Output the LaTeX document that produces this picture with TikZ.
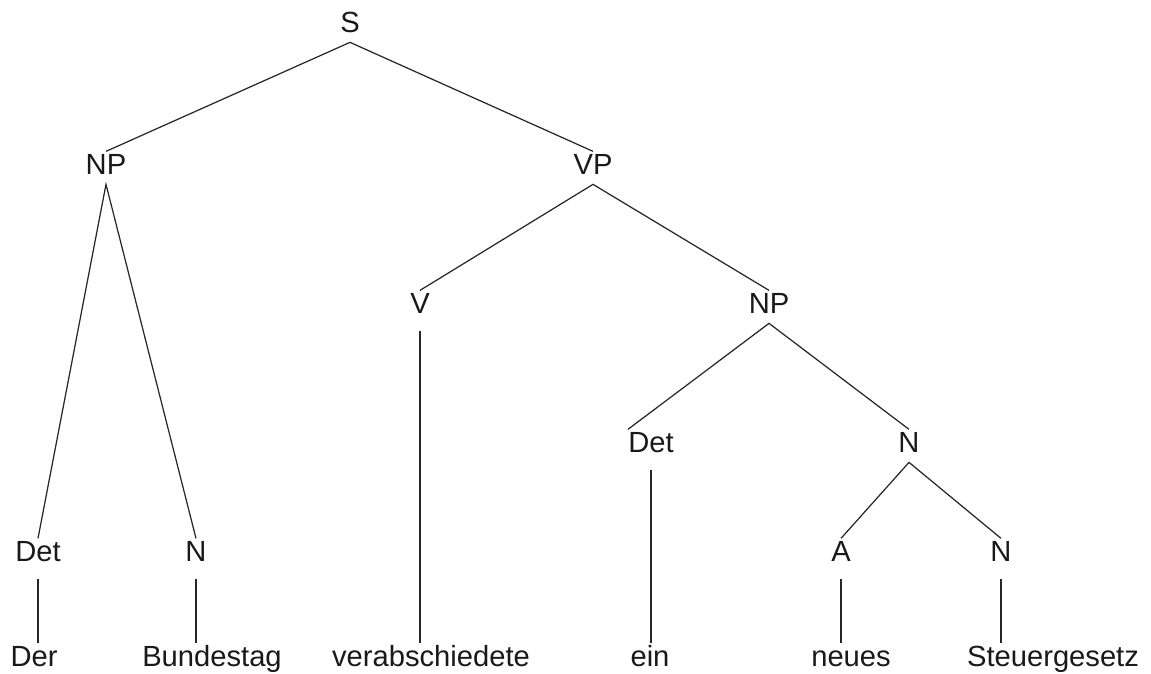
\documentclass[tikz,border=0pt]{standalone}
\usepackage{fontspec}
\setmainfont{Liberation Sans}
\usetikzlibrary{positioning}

\begin{document}
\begin{tikzpicture}[x=0.02cm,y=-0.02cm,
  cat/.style={anchor=base, inner xsep=0pt, inner ysep=0.2cm, text height=0.7em, text depth=0pt,
    font=\fontsize{16.6}{20}\selectfont, text=black!90},
  branch/.style={line width=0.7pt, color=black!85},
  stem/.style={branch, shorten <=0.15cm}]
  \useasboundingbox (0,0) rectangle (1151,673);

  \node [cat] (s) at (350,32) {S};
  \node [cat] (np) at (106,174) {NP};
  \node [cat] (vp) at (593,174) {VP};
  \node [cat] (v) at (420,313) {V};
  \node [cat] (npb) at (769,313) {NP};
  \node [cat] (detb) at (651,452) {Det};
  \node [cat] (nb) at (909,452) {N};
  \node [cat] (det) at (38,561) {Det};
  \node [cat] (n) at (196,561) {N};
  \node [cat] (a) at (841,561) {A};
  \node [cat] (nc) at (1001,561) {N};

  \node [cat] (der) at (34,666) {Der};
  \node [cat] (bundestag) at (212,666) {Bundestag};
  \node [cat] (verab) at (431,666) {verabschiedete};
  \node [cat] (ein) at (650,666) {ein};
  \node [cat] (neues) at (851,666) {neues};
  \node [cat] (gesetz) at (1053,666) {Steuergesetz};

  \draw [branch] (np.north) -- (s.south) -- (vp.north);
  \draw [branch] (det.north) -- (np.south) -- (n.north);
  \draw [branch] (v.north) -- (vp.south) -- (npb.north);
  \draw [branch] (detb.north west) -- (npb.south) -- (nb.north);
  \draw [branch] (a.north) -- (nb.south) -- (nc.north);

  \draw [stem] (det.south) -- (det.south |- der.north);
  \draw [stem] (n.south) -- (n.south |- bundestag.north);
  \draw [stem] (v.south) -- (v.south |- verab.north);
  \draw [stem] (detb.south) -- (detb.south |- ein.north);
  \draw [stem] (a.south) -- (a.south |- neues.north);
  \draw [stem] (nc.south) -- (nc.south |- gesetz.north);

\end{tikzpicture}
\end{document}
